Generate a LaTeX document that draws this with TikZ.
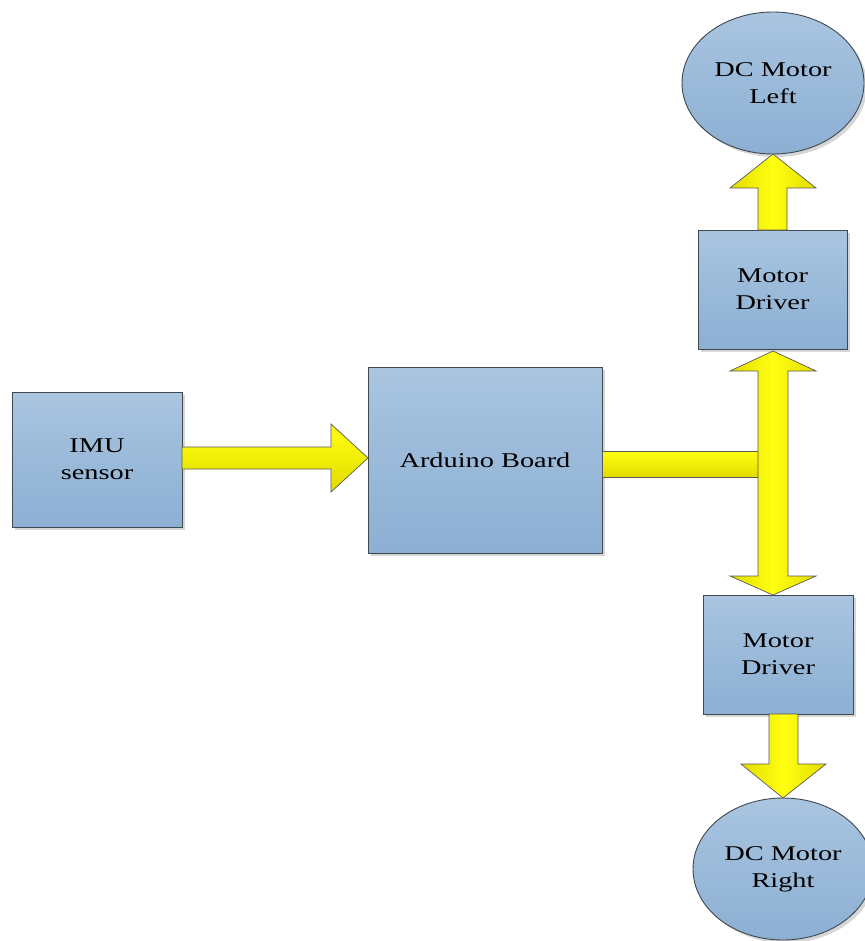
\documentclass[tikz,border=0pt]{standalone}
\usepackage{fontspec}
\setmainfont{Liberation Serif}[FakeStretch=1.35]
\usetikzlibrary{calc,shapes.geometric,shadows}
\definecolor{boxtop}{HTML}{A9C5E0}
\definecolor{boxbot}{HTML}{8CAFD3}
\definecolor{boxline}{HTML}{404850}
\definecolor{ylw}{HTML}{F0F000}
\definecolor{ylwlight}{HTML}{FFFF10}
\definecolor{ylwdark}{HTML}{E2DC00}
\definecolor{shd}{HTML}{D6D6D6}
\tikzset{
  blk/.style={draw=boxline, line width=0.9pt, top color=boxtop, bottom color=boxbot,
    inner sep=0pt, outer sep=0pt, align=center, font=\fontsize{21}{27}\selectfont,
    drop shadow={shadow xshift=3pt, shadow yshift=-3pt, fill=shd, opacity=1}},
  boxnode/.style={blk, rectangle},
  motor/.style={blk, ellipse},
  yarrowh/.style={draw=black!65, line width=0.7pt, top color=ylwlight, bottom color=ylwdark, line join=miter},
  yarrowv/.style={draw=black!65, line width=0.7pt, left color=ylwdark, right color=ylwdark, middle color=ylwlight, line join=miter},
}
\begin{document}
\begin{tikzpicture}[x=1pt,y=-1pt]
\useasboundingbox (0,0) rectangle (864,941);
% nodes
\node[boxnode, minimum width=170pt, minimum height=135pt] (imu) at (97,459.5) {IMU\\sensor};
\node[boxnode, minimum width=234pt, minimum height=186pt] (ard) at (485,460) {Arduino Board};
\node[boxnode, minimum width=149pt, minimum height=119pt] (drvL) at (772.5,289.5) {Motor\\Driver};
\node[boxnode, minimum width=150pt, minimum height=119pt] (drvR) at (778,654.5) {Motor\\Driver};
\node[motor, minimum width=182pt, minimum height=142pt] (motL) at (773,83) {DC Motor\\Left};
\node[motor, minimum width=180pt, minimum height=142pt] (motR) at (783,869) {DC Motor\\Right};
% IMU -> Arduino
\draw[yarrowh] ($(imu.east)+(0,-12.5)$) -- ($(ard.west)+(-37,-13)$) -- ($(ard.west)+(-37,-36)$)
  -- ($(ard.west)+(0,-2)$) -- ($(ard.west)+(-37,32)$) -- ($(ard.west)+(-37,9)$) -- ($(imu.east)+(0,9.5)$) -- cycle;
% Arduino -> bus
\draw[yarrowh] ($(ard.east)+(0,-9)$) -- (759,451) -- (759,477) -- ($(ard.east)+(0,17)$) -- cycle;
% double arrow between drivers
\draw[yarrowv] ($(drvL.south)+(0.5,2)$) -- (816,371) -- (788,371) -- (788,576) -- (816,576)
  -- ($(drvR.north)+(-5,0)$) -- (730,576) -- (758,576) -- (758,371) -- (730,371) -- cycle;
% driver L -> motor L
\draw[yarrowv] ($(drvL.north)+(-14.5,0)$) -- (758,188) -- (730,188) -- (motL.south) -- (816,188)
  -- (787,188) -- ($(drvL.north)+(14.5,0)$) -- cycle;
% driver R -> motor R
\draw[yarrowv] ($(drvR.south)+(-9,0)$) -- (769,764) -- (741,764) -- (motR.north) -- (826,764)
  -- (798,764) -- ($(drvR.south)+(20,0)$) -- cycle;
\end{tikzpicture}
\end{document}
